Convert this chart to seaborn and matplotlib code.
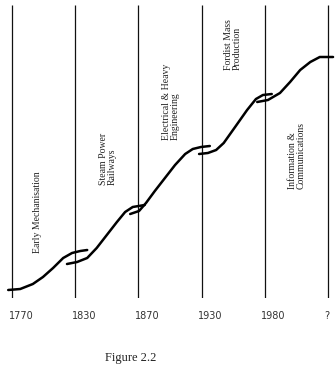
import matplotlib
matplotlib.use('Agg')
import matplotlib.pyplot as plt
import seaborn as sns
import pandas as pd

# eras (vertical dividers) and their labels
era_labels = ['1770', '1830', '1870', '1930', '1980', '?']
era_pos    = [0, 1, 2, 3, 4, 5]

# long-wave S-curves, x in era units, y = development level
seg1_x = [-0.06, 0.13, 0.33, 0.49, 0.65, 0.81, 0.95, 1.08, 1.19]
seg1_y = [8, 9, 14, 21, 30, 40, 45, 47, 48]
seg2_x = [0.87, 1.03, 1.19, 1.34, 1.50, 1.66, 1.79, 1.91, 2.10]
seg2_y = [34, 36, 40, 50, 63, 76, 86, 91, 93]
seg3_x = [1.87, 2.01, 2.12, 2.26, 2.42, 2.58, 2.74, 2.86, 2.99, 3.13]
seg3_y = [84, 87, 95, 107, 120, 133, 144, 149, 151, 152]
seg4_x = [2.96, 3.10, 3.23, 3.35, 3.53, 3.72, 3.86, 3.97, 4.11]
seg4_y = [144, 145, 148, 155, 171, 188, 199, 203, 204]
seg5_x = [3.88, 4.05, 4.24, 4.40, 4.56, 4.72, 4.87, 5.08]
seg5_y = [196, 198, 205, 216, 228, 236, 241, 241]

wave_names = ['Early Mechanisation', 'Steam Power\nRailways',
              'Electrical & Heavy\nEngineering', 'Fordist Mass\nProduction',
              'Information &\nCommunications']

segs = [(seg1_x, seg1_y), (seg2_x, seg2_y), (seg3_x, seg3_y),
        (seg4_x, seg4_y), (seg5_x, seg5_y)]
df = pd.concat([pd.DataFrame({'x': sx, 'y': sy, 'wave': i})
                for i, (sx, sy) in enumerate(segs)], ignore_index=True)

sns.set_style('white')
fig = plt.figure(figsize=(3.35, 3.73), dpi=100)
ax = fig.add_axes([0, 75/373, 1, 298/373])

ax.vlines(era_pos, 0, 293, color='#111111', linewidth=0.9)

for w, d in df.groupby('wave'):
    sns.lineplot(data=d, x='x', y='y', sort=False, color='black',
                 linewidth=1.8, ax=ax, legend=False,
                 solid_joinstyle='round', solid_capstyle='round')

# wave labels (rotated)
lab_x  = [0.41, 1.52, 2.52, 3.50, 4.51]
lab_y  = [45, 113, 158, 228, 109]
for name, lx, ly in zip(wave_names, lab_x, lab_y):
    ax.text(lx, ly, name, rotation=90, ha='center', va='bottom',
            multialignment='left', linespacing=0.95,
            family='Liberation Serif', fontsize=7, color='#222222')

# era labels just left-aligned under each divider
for pos, lab in zip(era_pos, era_labels):
    ax.text(pos - 0.055, -18/298, lab, transform=ax.get_xaxis_transform(),
            ha='left', va='center', fontsize=7, color='#333333')

ax.set_xlim(-12/63.2, (335-12)/63.2)
ax.set_ylim(0, 298)
ax.set_xticks([])
ax.set_yticks([])
ax.set_xlabel('')
ax.set_ylabel('')
sns.despine(ax=ax, left=True, bottom=True)

fig.text(131/335, 1 - 358/373, 'Figure 2.2', ha='center', va='center',
         family='Liberation Serif', fontsize=9, color='#222222')

plt.savefig('out.png', dpi=100)
